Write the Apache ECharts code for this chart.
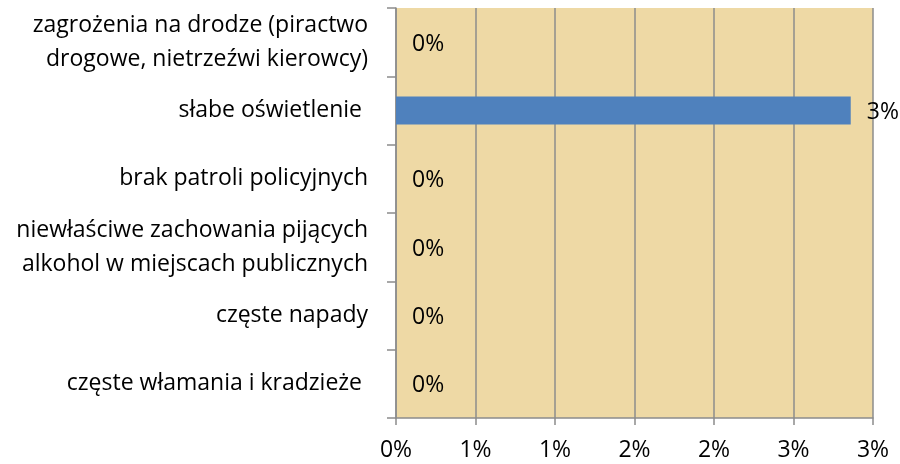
<!DOCTYPE html>
<html><head><meta charset="utf-8">
<script src="https://cdn.jsdelivr.net/npm/echarts@6/dist/echarts.min.js"></script>
<style>html,body{margin:0;padding:0;background:#fff}#c{width:900px;height:464px}</style>
</head><body><div id="c"></div>
<script>
const categories = [
  'częste włamania i kradzieże ',
  'częste napady',
  'niewłaściwe zachowania pijących\nalkohol w miejscach publicznych',
  'brak patroli policyjnych',
  'słabe oświetlenie ',
  'zagrożenia na drodze (piractwo\ndrogowe, nietrzeźwi kierowcy)'
];
const values = [0, 0, 0, 0, 2.86, 0];
const xMin = 0, xMax = 3, xStep = 0.5;

const FONT = 'Open Sans';
const chart = echarts.init(document.getElementById('c'), null, {renderer: 'canvas'});
chart.setOption({
  animation: false,
  grid: {left: 396, right: 27, top: 8, bottom: 46, show: true, backgroundColor: '#EED9A5', borderWidth: 0},
  xAxis: {
    type: 'value', min: xMin, max: xMax, interval: xStep,
    axisLine: {show: true, lineStyle: {color: '#8C8C8C', width: 1.5}},
    axisTick: {show: true, length: 7, lineStyle: {color: '#8C8C8C', width: 1.5}},
    splitLine: {show: true, lineStyle: {color: '#8C8C8C', width: 1.5}},
    axisLabel: {color: '#000', fontFamily: FONT, fontSize: 23, margin: 21,
      formatter: v => Math.round(v) + '%'}
  },
  yAxis: {
    type: 'category', data: categories,
    axisLine: {show: true, lineStyle: {color: '#8C8C8C', width: 1.5}},
    axisTick: {show: true, length: 9, lineStyle: {color: '#8C8C8C', width: 1.5}},
    axisLabel: {color: '#000', fontFamily: FONT, fontSize: 23, margin: 28, lineHeight: 34, align: 'right',
      padding: [5, 0, 0, 0]}
  },
  series: [{
    type: 'bar', data: values, barWidth: '41%',
    itemStyle: {color: '#4F81BD'},
    label: {show: true, position: 'right', distance: 16, offset: [0, 2], color: '#000', fontFamily: FONT, fontSize: 23,
      formatter: p => Math.round(p.value) + '%'}
  }]
});
</script></body></html>
